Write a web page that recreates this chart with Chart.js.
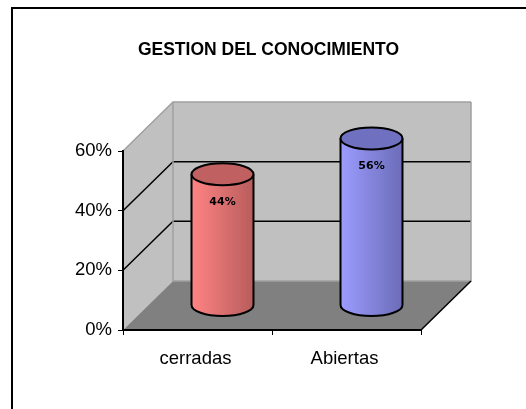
<!DOCTYPE html>
<html>
<head>
<meta charset="utf-8">
<style>
    html, body { margin: 0; padding: 0; background: #fff; }
    canvas { display: block; filter: blur(0.4px); }
</style>
<script src="https://cdn.jsdelivr.net/npm/chart.js@4/dist/chart.umd.min.js"></script>
</head>
<body>
<canvas id="chart" width="526" height="409"></canvas>
<script>
const chartTitle = 'GESTION DEL CONOCIMIENTO';
const categories = ['cerradas', 'Abiertas'];
const values = [44, 56];
const yTicks = [0, 20, 40, 60];

const barLight = ['#ff8484', '#9c9cff'];
const barDark = ['#b85c5c', '#6c6cb8'];
const barTop = ['#c06060', '#7070c0'];

// fake 3d depth of the box, bars stand in the middle of it
const depthX = 50;
const depthY = 49;
const ellipseY = 11;

function barGradient(context) {
    const chart = context.chart;
    const i = context.dataIndex;
    if (!chart.chartArea) return barLight[i];
    const meta = chart.getDatasetMeta(0).data[i];
    const mid = chart.scales.x.getPixelForValue(i);
    const half = meta && meta.width ? meta.width / 2 : 31;
    const g = chart.ctx.createLinearGradient(mid - half, 0, mid + half, 0);
    g.addColorStop(0, barLight[i]);
    g.addColorStop(1, barDark[i]);
    return g;
}

// walls and floor behind the bars
const boxPlugin = {
    id: 'box',
    beforeDraw(chart) {
        const { ctx, scales } = chart;
        const left = scales.x.left, right = scales.x.right;
        const bottom = scales.y.getPixelForValue(0);
        const top = scales.y.getPixelForValue(60);

        // page frame, only top and left sides
        ctx.save();
        ctx.strokeStyle = '#000';
        ctx.lineWidth = 2;
        ctx.beginPath();
        ctx.moveTo(12, 409);
        ctx.lineTo(12, 8);
        ctx.lineTo(526, 8);
        ctx.stroke();

        ctx.fillStyle = '#c0c0c0';
        ctx.beginPath();
        ctx.moveTo(left, bottom);
        ctx.lineTo(left, top);
        ctx.lineTo(left + depthX, top - depthY);
        ctx.lineTo(right + depthX, top - depthY);
        ctx.lineTo(right + depthX, bottom - depthY);
        ctx.lineTo(left + depthX, bottom - depthY);
        ctx.closePath();
        ctx.fill();

        ctx.fillStyle = '#808080';
        ctx.beginPath();
        ctx.moveTo(left, bottom);
        ctx.lineTo(left + depthX, bottom - depthY);
        ctx.lineTo(right + depthX, bottom - depthY);
        ctx.lineTo(right, bottom);
        ctx.closePath();
        ctx.fill();

        // grid lines run along the side wall and the back wall
        yTicks.forEach((t) => {
            if (t === 0) return;
            const y = scales.y.getPixelForValue(t);
            ctx.strokeStyle = t === 60 ? '#a0a0a0' : '#000';
            ctx.lineWidth = 1.5;
            ctx.beginPath();
            ctx.moveTo(left, y);
            ctx.lineTo(left + depthX, y - depthY);
            ctx.lineTo(right + depthX, y - depthY);
            ctx.stroke();
        });

        ctx.strokeStyle = '#a0a0a0';
        ctx.lineWidth = 1.5;
        ctx.beginPath();
        ctx.moveTo(left + depthX, top - depthY);
        ctx.lineTo(left + depthX, bottom - depthY);
        ctx.lineTo(right + depthX, bottom - depthY);
        ctx.lineTo(right + depthX, top - depthY);
        ctx.stroke();

        ctx.strokeStyle = '#000';
        ctx.beginPath();
        ctx.moveTo(right, bottom);
        ctx.lineTo(right + depthX, bottom - depthY);
        ctx.stroke();
        ctx.restore();
    },
    beforeDatasetsDraw(chart) {
        chart.ctx.save();
        chart.ctx.translate(depthX / 2, -depthY / 2);
    },
    // the library draws the body of the bar, this adds the round ends
    afterDatasetsDraw(chart) {
        const ctx = chart.ctx;
        chart.getDatasetMeta(0).data.forEach((bar, i) => {
            const rx = bar.width / 2;
            ctx.lineWidth = 2;
            ctx.strokeStyle = '#000';

            ctx.beginPath();
            ctx.ellipse(bar.x, bar.base, rx, ellipseY, 0, 0, Math.PI);
            ctx.fillStyle = bar.options.backgroundColor;
            ctx.fill();
            ctx.stroke();

            ctx.beginPath();
            ctx.moveTo(bar.x - rx, bar.y);
            ctx.lineTo(bar.x - rx, bar.base);
            ctx.moveTo(bar.x + rx, bar.y);
            ctx.lineTo(bar.x + rx, bar.base);
            ctx.stroke();

            ctx.beginPath();
            ctx.ellipse(bar.x, bar.y, rx, ellipseY, 0, 0, Math.PI * 2);
            ctx.fillStyle = barTop[i];
            ctx.fill();
            ctx.stroke();

            ctx.fillStyle = '#000';
            ctx.font = 'bold 11px "DejaVu Sans"';
            ctx.textAlign = 'center';
            ctx.textBaseline = 'middle';
            ctx.fillText(values[i] + '%', bar.x, bar.y + 28);
        });
        ctx.restore();
    },
    afterLayout(chart) {
        // title sits over the whole box, not the front face
        chart.titleBlock.left += 58;
        chart.titleBlock.right += 58;
    }
};

new Chart(document.getElementById('chart'), {
    type: 'bar',
    data: {
        labels: categories,
        datasets: [{
            data: values,
            backgroundColor: barGradient,
            borderWidth: 0,
            barPercentage: 0.416,
            categoryPercentage: 1
        }]
    },
    options: {
        responsive: false,
        animation: false,
        layout: { padding: { right: 105 } },
        plugins: {
            legend: { display: false },
            tooltip: { enabled: false },
            title: {
                display: true,
                text: chartTitle,
                color: '#000',
                font: { family: '"Liberation Sans"', size: 17.5, weight: 'bold' },
                padding: { top: 40, bottom: 90 }
            }
        },
        scales: {
            x: {
                afterFit: (s) => { s.height = 79; },
                border: { color: '#000', width: 2 },
                grid: { drawOnChartArea: false, color: '#000', tickLength: 5, offset: true },
                ticks: {
                    color: '#000',
                    padding: 13,
                    maxRotation: 0,
                    labelOffset: -2,
                    font: { family: '"Liberation Sans"', size: 18.5 }
                }
            },
            y: {
                min: 0,
                max: 60,
                afterFit: (s) => { s.width = 123; },
                afterBuildTicks: (s) => { s.ticks = yTicks.map((v) => ({ value: v })); },
                border: { color: '#000', width: 2 },
                grid: { drawOnChartArea: false, color: '#000', tickLength: 5 },
                ticks: {
                    color: '#000',
                    padding: 6,
                    callback: (v) => v + '%',
                    font: { family: '"Liberation Sans"', size: 18.5 }
                }
            }
        }
    },
    plugins: [boxPlugin]
});
</script>
</body>
</html>
